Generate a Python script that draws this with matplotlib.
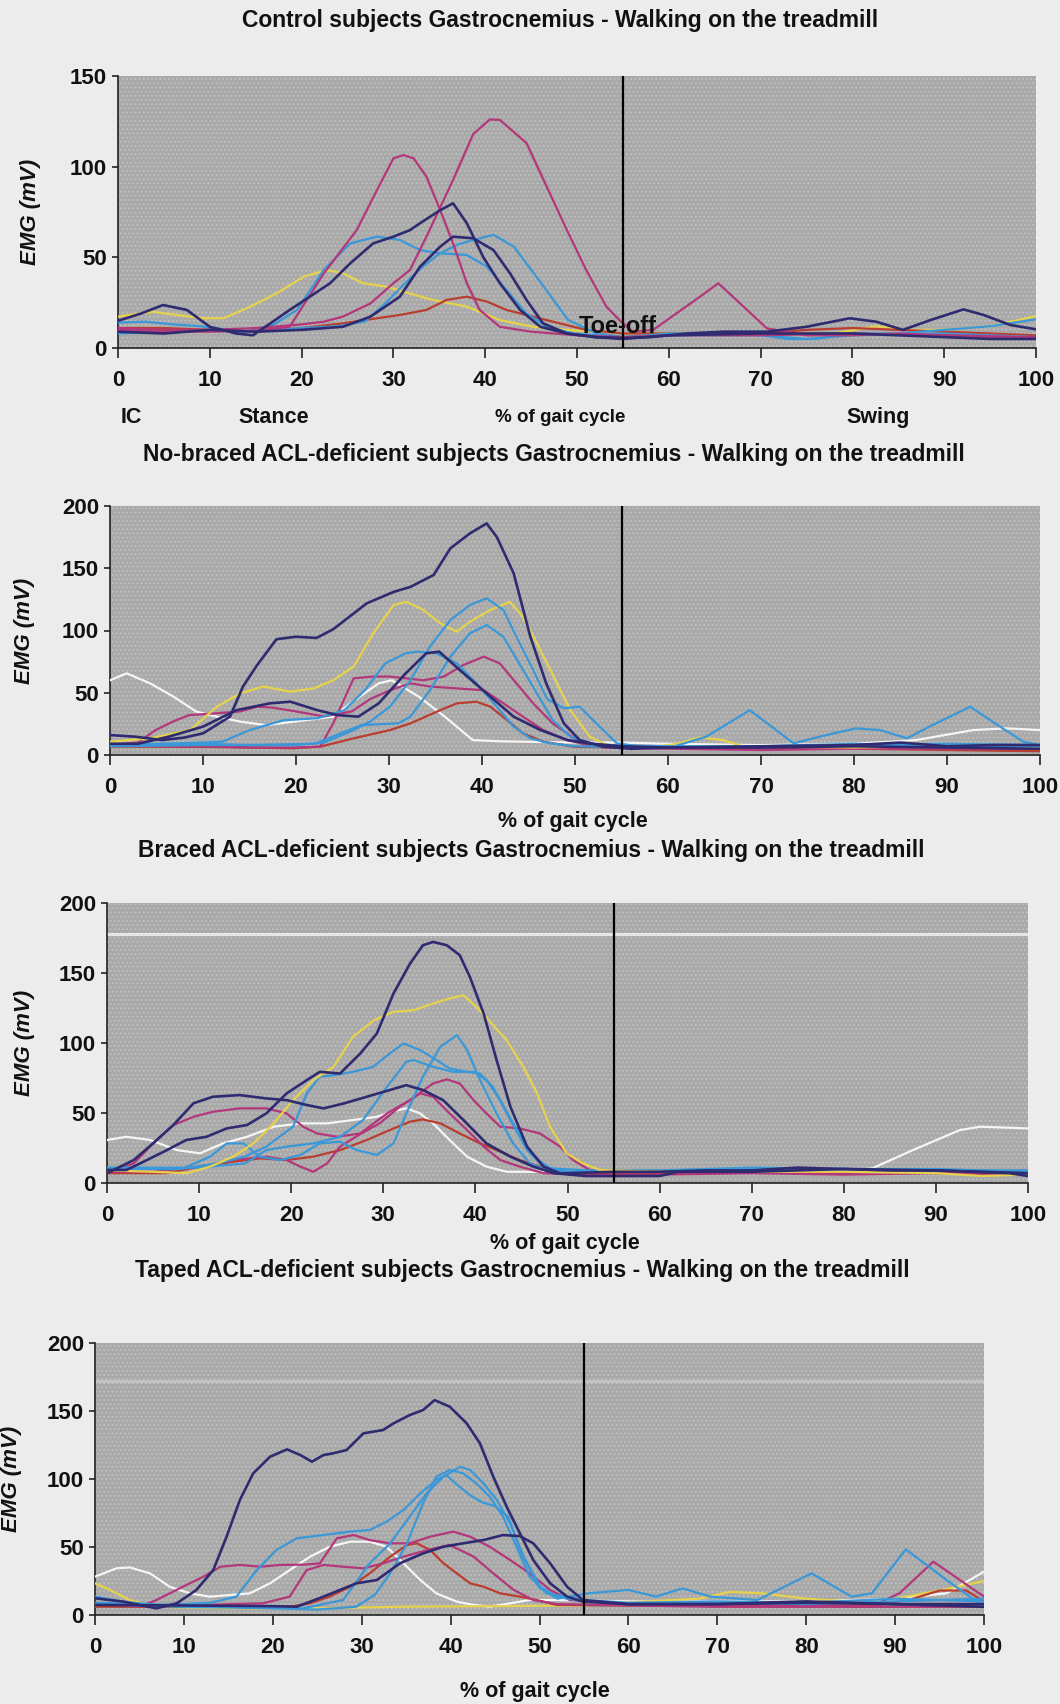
import matplotlib
matplotlib.use("Agg")
import matplotlib.pyplot as plt
from matplotlib.patches import Rectangle

# ---------------- data ----------------
x_ticks = [0, 10, 20, 30, 40, 50, 60, 70, 80, 90, 100]
toe_off = 55

titles = ["Control subjects Gastrocnemius - Walking on the treadmill",
          "No-braced ACL-deficient subjects Gastrocnemius - Walking on the treadmill",
          "Braced ACL-deficient subjects Gastrocnemius - Walking on the treadmill",
          "Taped ACL-deficient subjects Gastrocnemius - Walking on the treadmill"]
y_maxes = [150, 200, 200, 200]
phase_labels = ["IC", "Stance", "Swing"]
phase_pos = [0.3, 17, 82.8]
# light horizontal streaks visible across the scanned plot areas (panel index, level, alpha)
scan_streak_panel = [2, 3]
scan_streak_level = [178, 172]
scan_streak_alpha = [0.85, 0.35]

# ---- Control ----
ctrl_navy_a_x = [0, 2.5, 4.9, 7.5, 10, 12.9, 14.7, 16.6, 18.7, 20.9, 23.1, 25.3, 27.8, 30, 31.8, 32.9, 35.1, 36.5, 38, 39.8, 41.6, 43.8, 46, 48.9, 52, 55, 58, 62, 66, 70.7, 75, 79.7, 82.6, 85.5, 88.5, 92.1, 94.3, 97.2, 100]
ctrl_navy_a_y = [15, 19, 23.7, 21, 11.7, 8, 7, 13.6, 21, 28.3, 35.7, 46.7, 57.7, 61.4, 65, 68.8, 76, 79.8, 68.8, 50, 35.7, 21, 11.7, 8, 6, 5.5, 6, 8, 9, 9, 11.7, 16.4, 14.5, 10, 15.4, 21.3, 18.2, 12.7, 10.3]
ctrl_navy_b_x = [0, 5, 10, 15, 20, 24.5, 27.5, 30.7, 32.9, 35.1, 36.5, 38.7, 40.9, 42.7, 44.5, 46.3, 48.9, 52, 55, 60, 70, 80, 90, 95, 100]
ctrl_navy_b_y = [9, 8, 10, 9, 10, 11.7, 17.3, 28.3, 44.8, 55.9, 61.4, 60.5, 54, 41.2, 26.5, 13.6, 8, 6, 5, 7, 8, 8, 6, 5, 5]
ctrl_pink_a_x = [0, 5, 10, 15, 18.7, 22.4, 26, 28.2, 30, 31.1, 32.2, 33.6, 35.1, 36.5, 38, 39.4, 41.6, 45, 50, 55, 60, 70, 80, 90, 100]
ctrl_pink_a_y = [10, 9, 9, 9.5, 11.7, 41, 65, 87, 104.6, 106.4, 104.6, 94.5, 76, 57.7, 35.7, 21, 11.7, 9, 7, 6, 7, 7, 8, 7, 6]
ctrl_pink_b_x = [0, 5, 10, 15, 20, 22.4, 24.5, 27.5, 30, 31.8, 33.6, 36.5, 38.7, 40.5, 41.6, 44.5, 46.7, 48.9, 51, 53.2, 54.7, 56.1, 58.3, 63.4, 65.4, 70.7, 75, 80, 85, 90, 95, 100]
ctrl_pink_b_y = [11, 10, 10, 11, 13, 14.5, 17.3, 24.6, 35.7, 43, 61.4, 92.7, 118, 126, 125.8, 113, 89, 65, 43, 22.8, 15, 9, 10, 28.3, 35.7, 10.8, 7, 7, 8, 7, 6, 6]
ctrl_blue_a_x = [0, 3, 6, 9, 12, 14, 17, 19.5, 22.4, 25.3, 28.2, 30.7, 32.9, 35.1, 38, 40.2, 42.3, 44.5, 46.7, 49.6, 55, 60, 65, 70, 73, 76, 80, 85, 90, 95, 100]
ctrl_blue_a_y = [14, 14.5, 13, 12, 10, 9, 13, 21, 43, 57.7, 61.4, 59.6, 54, 52.2, 51.3, 44.8, 32, 19, 11.7, 8, 6, 8, 8, 7, 5, 5, 8, 8, 10, 12, 15.8]
ctrl_blue_b_x = [0, 5, 10, 15, 20, 24, 26.9, 29, 31.3, 33, 35, 37, 38.7, 40.9, 43.1, 46.1, 49, 52, 55, 60, 70, 75, 80, 90, 100]
ctrl_blue_b_y = [8, 9, 10, 9, 11, 12, 14.7, 24, 35.8, 44, 52, 57, 59.6, 62.4, 56, 35.8, 15.6, 8.3, 6, 7, 7, 5, 7, 8, 6]
ctrl_yellow_x = [0, 3.8, 6.4, 9.3, 11.5, 14.4, 17.3, 20.2, 22.7, 24.5, 26.7, 29.3, 31.1, 34.3, 38, 41.6, 45.2, 48.9, 55, 60, 70, 78, 82.6, 86, 90, 95, 100]
ctrl_yellow_y = [17.3, 20, 18.2, 16.4, 16.4, 22.8, 30.2, 39.3, 43, 41.2, 35.7, 33.8, 31, 26.5, 22.8, 15.4, 11.7, 10, 8, 8, 8, 8, 12, 10, 10, 12, 17.6]
ctrl_red_x = [0, 5, 10, 15, 20, 24.5, 28.2, 30.7, 33.6, 35.8, 38, 40.2, 42.3, 45.2, 48.1, 51, 55, 60, 70, 75, 80, 90, 100]
ctrl_red_y = [11, 11, 10, 9, 11, 13.6, 16.4, 18.2, 21, 26.5, 28.3, 25.6, 21, 17.3, 13.6, 10, 8, 8, 8, 10, 11, 9, 7]

# ---- No-braced ----
nb_navy_a_x = [0, 2.7, 5.6, 8, 10, 12.9, 14.3, 15.8, 17.9, 20, 22.2, 24, 27.6, 30.5, 32.3, 34.8, 36.6, 38.7, 40.5, 41.6, 43.4, 45.2, 46.9, 48.8, 50.5, 53, 56, 60, 70, 80, 90, 100]
nb_navy_a_y = [16, 14.7, 12, 14, 17.4, 30.8, 55, 72, 93, 95, 94, 101, 121.8, 131, 135, 144.6, 166, 178, 186, 175, 146, 95, 57.6, 25.4, 12, 6.7, 5, 6, 6, 7, 6, 5]
nb_navy_b_x = [0, 3, 6.3, 10, 13.6, 17.2, 19.4, 22.3, 24.5, 26.7, 28.9, 31.8, 34, 35.4, 37.6, 40.5, 43.4, 46.3, 49.2, 51.4, 55, 60, 70, 80, 85, 90, 95, 100]
nb_navy_b_y = [9, 9, 14.7, 22.8, 36, 41.5, 42.8, 36, 32, 30.8, 41.5, 65.6, 81.7, 83, 68.3, 49.5, 30.8, 20, 12, 9.4, 7, 6, 7, 8, 10, 7, 8, 8]
nb_yellow_x = [0, 4.3, 8.6, 11.5, 14, 16.5, 19.4, 21.9, 24, 26.2, 28.3, 30.5, 31.9, 33.7, 35.5, 37.3, 38.7, 40.9, 43, 44.4, 45.9, 47.7, 49.5, 51.6, 53.4, 58, 61, 63.4, 65.9, 68, 80, 88, 92, 100]
nb_yellow_y = [10.7, 13.4, 20, 38.8, 49.5, 55, 50.9, 53.5, 60, 71, 97.7, 120.5, 123, 116.5, 105.8, 99, 107, 116.5, 123, 111, 89.7, 63, 36, 14.7, 8, 6, 9, 14, 12, 7, 6, 7, 8, 6]
nb_white_x = [0, 1.8, 4.3, 6.8, 9.3, 11.5, 14, 16.8, 21.1, 24, 26.5, 28.9, 30.3, 33.2, 36, 39, 42, 50, 55, 60, 70, 80, 86.7, 92.8, 96.4, 100]
nb_white_y = [60, 65.6, 57.6, 47, 34.8, 30.8, 26.8, 24, 28, 30.8, 45, 57.6, 60, 46.9, 30.8, 12, 11, 10, 10, 9, 8, 9, 12, 20, 21.4, 20]
nb_mag_a_x = [0, 5, 10, 15, 20, 22.6, 24, 26.2, 28.3, 30.1, 33.7, 35.9, 38, 40.2, 41.9, 43.7, 45.5, 47.6, 50.2, 53, 60, 70, 80, 90, 100]
nb_mag_a_y = [8, 7, 7, 6, 6, 6.7, 25.4, 61.6, 63, 63, 60, 63, 72.3, 79, 73.6, 57.6, 41.5, 25.4, 12, 6, 5, 4, 5, 5, 5]
nb_mag_b_x = [0, 3, 4.9, 6.8, 8.5, 11.4, 14, 15.8, 17.5, 20, 23, 26, 28, 30.1, 32.3, 34.4, 37.3, 40.2, 42.3, 44.4, 46.6, 49.1, 52, 60, 70, 80, 90, 100]
nb_mag_b_y = [8, 10, 20, 27, 32, 33.5, 35, 38.8, 38, 35, 31, 35, 45, 52, 57.6, 55, 53.5, 52, 41.5, 30.8, 20, 12, 7, 6, 6, 8, 6, 5]
nb_blue_a_x = [0, 5, 10, 15, 20, 23, 26.2, 28, 30.1, 32.3, 34.4, 36.6, 38.7, 40.5, 42.3, 43.7, 45.5, 47, 48.8, 50.5, 52.3, 54.5, 57, 60.6, 64.1, 68.8, 73.5, 77, 80.2, 82.8, 85.7, 88.1, 92.5, 95.7, 98.2, 100]
nb_blue_a_y = [8, 8, 9, 8, 8, 10, 20, 27, 38.8, 60, 87, 108.4, 120.5, 125.8, 116.5, 95, 68.3, 45, 37.5, 38.8, 25.4, 9.4, 6.7, 6.7, 14.7, 36, 9.4, 16, 21.4, 20, 13.4, 22.8, 38.8, 22.8, 10.7, 8]
nb_blue_b_x = [0, 10, 15, 22, 25, 27, 31, 32.3, 34.4, 36.6, 38.7, 40.5, 42.3, 44, 45.9, 47.6, 49.5, 52, 60, 70, 80, 90, 100]
nb_blue_b_y = [7, 8, 8, 9, 18, 24, 25.4, 30.8, 52, 79, 97.7, 104.4, 95, 73.6, 49.5, 28, 14.7, 8, 7, 7, 9, 7, 7]
nb_blue_c_x = [0, 5, 10, 12.1, 15, 18.7, 22.3, 25.2, 27.4, 29.6, 31.8, 33, 35.1, 37.3, 39.4, 41.6, 43.4, 45.2, 47.3, 50, 60, 70, 80, 90, 100]
nb_blue_c_y = [8, 9, 10, 10.7, 20, 28, 29.5, 36, 52, 73.6, 81.7, 83, 81.7, 73.6, 57.6, 38.8, 22.8, 13.4, 9.4, 7, 6, 7, 8, 9, 8]
nb_red_x = [0, 5, 10, 15, 19.7, 22.6, 26.2, 30.1, 32.3, 35.5, 37.3, 39.4, 40.9, 42.7, 44.4, 46.6, 50, 60, 70, 80, 90, 100]
nb_red_y = [6.7, 6.7, 6.5, 6, 5.4, 6.7, 13.4, 20, 25.4, 36, 41.5, 42.8, 38.8, 28, 17.4, 10.7, 6.5, 6, 6, 5, 4, 3]

# ---- Braced ----
br_navy_a_x = [0, 2.1, 3.6, 6.5, 8.6, 10.8, 13, 15.2, 17.3, 19.5, 21.7, 23.1, 25.3, 27.5, 29.3, 31.1, 32.9, 34.3, 35.4, 36.9, 38.3, 39.4, 40.9, 42.3, 43.8, 45.6, 47.4, 49.2, 55, 60, 65, 70, 75, 80, 85, 90, 95, 100]
br_navy_a_y = [9.3, 9.3, 14, 23.5, 30.7, 33, 39, 41.4, 49.7, 64, 73.5, 79.4, 78.2, 92.5, 106.8, 135.3, 156.7, 169.8, 172.2, 169.8, 162.7, 147.2, 121, 87.8, 54.5, 26, 11.7, 6.9, 8, 8, 9, 9, 11, 10, 9, 9, 8, 7]
br_navy_b_x = [0, 2.9, 5, 7.2, 9.4, 11.5, 14.4, 17.3, 19.5, 21.7, 23.5, 25.7, 28.2, 30.7, 32.5, 34.3, 36.5, 38.7, 41.2, 43.8, 46.3, 48.5, 52, 60, 62, 70, 80, 90, 98, 100]
br_navy_b_y = [7, 16.4, 28.3, 41.4, 57, 61.6, 62.8, 60.4, 59.2, 55.7, 53.3, 56.8, 61.6, 66.4, 69.9, 66.4, 59.2, 45, 28.3, 18.8, 11.7, 7, 5, 5, 8, 8, 10, 9, 7, 5]
br_yellow_x = [0, 5, 8.7, 11.2, 13.7, 15.9, 18.1, 20.2, 22.4, 24.6, 26.7, 29, 31.1, 33.3, 35.4, 37.2, 38.7, 40.1, 41.6, 43.4, 45.2, 46.7, 48.1, 49.9, 51.7, 53.5, 60, 70, 80, 90, 95, 100]
br_yellow_y = [9, 8, 7, 11.7, 18.8, 28.3, 42.6, 59.2, 73.5, 83, 104.4, 116.3, 122.3, 123.4, 128.2, 131.8, 134.1, 125.8, 115.1, 102, 83, 64, 40.2, 21.2, 14, 9.3, 8, 8, 8, 7, 5, 6]
br_blue_a_x = [0, 8, 12, 15, 17.3, 20.2, 21.7, 23.1, 24.6, 26.7, 28.9, 30.7, 32.2, 34, 35.8, 37.2, 39.1, 40.5, 41.9, 43.8, 45.6, 47.4, 50, 60, 70, 80, 90, 100]
br_blue_a_y = [10, 10, 14, 19, 26, 40.2, 64, 75.9, 77, 79.4, 83, 92.5, 99.7, 94.9, 87.8, 81.8, 79.4, 78.2, 68.7, 45, 23.5, 11.7, 8, 8, 9, 10, 9, 8]
br_blue_b_x = [0, 8.3, 11.2, 13, 14.8, 16.6, 18.8, 21, 23.1, 25.3, 27.1, 29.3, 31.1, 32.5, 34.3, 36.2, 38, 39.1, 40.5, 42.3, 44.1, 45.9, 47.7, 50, 60, 70, 80, 90, 100]
br_blue_b_y = [10.5, 10.5, 18.8, 28.3, 28.3, 18.8, 16.4, 20, 28.3, 29.5, 23.5, 20, 28.3, 49.7, 75.9, 97.3, 105.6, 94.9, 73.5, 49.7, 28.3, 14, 9.3, 8, 8, 10, 10, 10, 8]
br_blue_c_x = [0, 10, 15, 17.3, 19.5, 22.4, 25.3, 27.8, 30.4, 32.5, 33.3, 35.4, 37.6, 39.8, 41.2, 42.7, 44.5, 46.3, 48.1, 52, 60, 70, 80, 90, 100]
br_blue_c_y = [11, 11, 14, 23.5, 26, 28.3, 33, 45, 68.7, 86.6, 87.8, 83, 79.4, 79.4, 73.5, 59.2, 37.8, 18.8, 10.5, 9, 9, 11, 10, 9, 9]
br_mag_a_x = [0, 2.9, 5, 7.2, 9.4, 11.5, 14.4, 17.3, 19.5, 21.3, 22.8, 25, 27.5, 30.4, 32.9, 35.4, 36.9, 38.3, 39.8, 41.2, 42.7, 44.8, 47, 49.2, 50.6, 52.4, 60, 70, 80, 90, 100]
br_mag_a_y = [7, 14, 28.3, 41.4, 47.3, 50.9, 53.3, 53.3, 49.7, 40.2, 35.4, 33, 35.4, 49.7, 59.2, 71.1, 74, 71.1, 59.2, 49.7, 40.2, 39, 35.4, 26, 16.4, 9.3, 8, 8, 7, 8, 7]
br_mag_b_x = [0, 5, 10.1, 13.7, 17.3, 19.5, 21, 22.4, 23.9, 25.3, 27.5, 29.6, 31.8, 34, 35.4, 37.2, 39.1, 40.9, 42.7, 44.8, 47.4, 52, 60, 70, 80, 90, 100]
br_mag_b_y = [8, 8, 11.7, 16.4, 18.8, 16.4, 11.7, 8, 14, 26, 35, 42.6, 54.5, 64, 61.6, 49.7, 37.8, 26, 16.4, 11.7, 7, 6, 6, 7, 6, 7, 6]
br_red_x = [0, 6.5, 10.1, 13.7, 16.6, 19.5, 22.4, 25.3, 28.2, 30.7, 32.9, 34.3, 36.2, 38.3, 40.5, 42.7, 44.8, 47, 49.2, 55, 60, 70, 80, 90, 100]
br_red_y = [7, 7, 11.7, 15.2, 17.6, 16.4, 18.8, 23.5, 30.7, 37.8, 43.8, 45.4, 42.6, 35.4, 28.3, 22.4, 16.4, 11.7, 7, 7, 7, 8, 7, 8, 7]
br_white_x = [0, 2.1, 4.7, 7.6, 10.1, 12.6, 15.2, 18.1, 21, 23.9, 26.7, 29.3, 31.5, 32.5, 34, 35.4, 37.2, 39.1, 41.2, 43.4, 50, 60, 70, 80, 83.1, 87.5, 92.6, 94.8, 100]
br_white_y = [30.7, 33, 30.7, 23.5, 21.2, 28.3, 33, 40.2, 42.6, 42.6, 45, 47.3, 52, 53.3, 49.7, 42.6, 30.7, 18.8, 11.7, 8, 8, 8, 8, 8, 10.5, 23.5, 37.8, 40.2, 39]

# ---- Taped ----
tp_navy_a_x = [0, 3.2, 6.9, 9.2, 11.4, 13.3, 14.8, 16.3, 17.8, 19.7, 21.6, 23.1, 24.4, 25.7, 26.8, 28.3, 30.2, 32.4, 33.6, 35.4, 36.9, 38.2, 39.9, 41.8, 43.3, 44.8, 46.3, 47.8, 49.3, 51.2, 53.1, 54.9, 60, 70, 80, 90, 100]
tp_navy_a_y = [12.3, 9.8, 4.9, 8.6, 18.4, 33, 57.6, 84.6, 104.2, 116.4, 121.8, 117.6, 112.7, 117.6, 118.9, 121.3, 133.6, 136, 141, 147, 150.7, 158, 153.2, 141, 126.2, 101.7, 79.7, 60, 40.4, 23.3, 13.5, 9.8, 8, 8, 9, 8, 8]
tp_navy_b_x = [0, 10, 20, 22.7, 25.7, 29.4, 31.7, 34.3, 36.9, 39.2, 41.4, 43.7, 45.9, 47.8, 49.3, 51.2, 53.1, 54.9, 60, 70, 80, 90, 100]
tp_navy_b_y = [7.4, 7, 6.5, 6.1, 13.5, 23.3, 25.7, 38, 45.3, 50.2, 52.7, 55.1, 58.8, 58, 52.7, 38, 20.8, 11, 8, 8, 10, 8, 6]
tp_blue_a_x = [0, 3.2, 6.9, 10, 13, 15.9, 18.2, 20.4, 22.7, 25.7, 28.7, 30.9, 32.8, 34.7, 36.6, 38.4, 39.5, 40.7, 42.2, 43.5, 45, 46.5, 48, 50, 52, 55.5, 60, 63.1, 66.1, 69.2, 74.5, 80.6, 85.1, 87.4, 91.2, 95.8, 100]
tp_blue_a_y = [13.5, 9.8, 7.4, 8, 9, 13.5, 33, 47.8, 56.4, 58.8, 61.3, 62.5, 68.6, 77.2, 89.5, 99.3, 103, 96, 88, 83, 80, 72, 45, 20, 12, 16, 18.4, 13.5, 19.6, 13.5, 11, 30.6, 13.5, 16, 48.3, 25.7, 6.1]
tp_blue_b_x = [0, 10, 20, 23.4, 27.9, 30.9, 33.2, 35.4, 37.3, 39.2, 41.1, 42.2, 43.7, 45.2, 46.7, 48.2, 50.1, 51.9, 55, 60, 70, 80, 90, 100]
tp_blue_b_y = [9, 7, 5, 4.9, 11, 38, 52.7, 72.3, 89.5, 101.7, 109, 106.6, 96.8, 84.6, 67.4, 42.9, 20.8, 13.5, 10, 8, 9, 8, 10, 12]
tp_blue_c_x = [0, 10, 20, 25, 29.4, 31.5, 33.2, 35.1, 36.9, 38.4, 39.9, 41.4, 42.9, 44.4, 45.9, 47.4, 48.9, 50.8, 55, 60, 70, 80, 90, 100]
tp_blue_c_y = [8, 6, 5, 4, 6.1, 15, 30.6, 52.7, 82.1, 101.7, 106.6, 104.2, 96.8, 87, 72.3, 50.2, 28.2, 15.9, 11, 9, 10, 9, 12, 10]
tp_mag_a_x = [0, 5.1, 6.9, 9.9, 12.2, 14.1, 16.3, 18.6, 20.8, 23.5, 25.3, 27.2, 29.1, 30.9, 33.2, 35.4, 37.7, 40.3, 42.2, 44.4, 46.7, 48.9, 51.2, 53.4, 60, 70, 80, 87.2, 90.5, 94.3, 97.3, 100]
tp_mag_a_y = [8.6, 6.1, 11, 20.8, 28.2, 35.5, 36.8, 35.5, 36.8, 37, 38, 56.4, 58.8, 55.1, 52.7, 52.7, 57.6, 61.3, 57.6, 50.2, 40.4, 30.6, 18.4, 11, 8, 7, 7, 6, 16, 39.2, 25.7, 13.5]
tp_mag_b_x = [0, 10, 18.9, 21.9, 23.8, 25.7, 27.9, 30.2, 32.4, 34.7, 37.5, 39.9, 42.6, 44.8, 47.1, 49.3, 52, 60, 70, 80, 90, 100]
tp_mag_b_y = [7.4, 7, 8.6, 13.5, 33, 36.8, 35.5, 34.3, 38, 42.9, 48, 51.5, 42.9, 30.6, 18.4, 11, 8, 7, 6, 6, 6, 6]
tp_red_x = [0, 10, 21.9, 24.2, 26.4, 28.7, 30.9, 33.2, 35.1, 36.2, 37.7, 39.2, 40.7, 42.2, 43.7, 45.6, 47.8, 49.7, 51.9, 60, 70, 80, 88, 92, 95, 98, 100]
tp_red_y = [6.1, 6, 6.1, 8.6, 13.5, 20.8, 30.6, 42.9, 51.5, 52.7, 47.8, 38, 30.6, 23.3, 20.8, 15.9, 13.5, 11, 7.4, 7, 7, 7, 7, 12, 18, 18, 10]
tp_yellow_x = [0, 1.7, 3.9, 6.9, 15, 25, 35, 45, 55, 62, 68, 71.4, 75, 80, 85, 90, 95, 100]
tp_yellow_y = [23.3, 18.4, 11, 6.1, 5, 5, 6.1, 6.5, 7, 10, 12, 17, 16, 12, 10, 12, 18, 25]
tp_white_x = [0, 2.4, 3.9, 6.2, 8.4, 10.7, 12.9, 15.2, 17.4, 19.7, 21.9, 24.2, 26.4, 28.7, 30.9, 32.8, 34.7, 36.6, 38.4, 40.7, 42.6, 44.4, 46.7, 48.9, 51.9, 60, 70, 80, 90, 95.8, 100]
tp_white_y = [28.2, 34.3, 35, 30.6, 20.8, 15.9, 13.5, 14.7, 15.9, 23.3, 33, 42.9, 50.2, 53.9, 53.9, 50.2, 38, 25.7, 15.9, 9.8, 7.4, 6.1, 8.6, 11, 11, 10, 10, 10, 12, 16, 31.8]

# ---------------- styling ----------------
NAVY = "#2f2b70"
MAG = "#b3377a"
YEL = "#e6d24c"
BLUE = "#3a98d8"
RED = "#b93e30"
WHITE = "#f5f5f5"

panels = [
    [(ctrl_yellow_x, ctrl_yellow_y, YEL), (ctrl_red_x, ctrl_red_y, RED),
     (ctrl_blue_a_x, ctrl_blue_a_y, BLUE), (ctrl_blue_b_x, ctrl_blue_b_y, BLUE),
     (ctrl_pink_a_x, ctrl_pink_a_y, MAG), (ctrl_pink_b_x, ctrl_pink_b_y, MAG),
     (ctrl_navy_b_x, ctrl_navy_b_y, NAVY), (ctrl_navy_a_x, ctrl_navy_a_y, NAVY)],
    [(nb_white_x, nb_white_y, WHITE), (nb_red_x, nb_red_y, RED),
     (nb_mag_a_x, nb_mag_a_y, MAG), (nb_mag_b_x, nb_mag_b_y, MAG),
     (nb_yellow_x, nb_yellow_y, YEL), (nb_blue_c_x, nb_blue_c_y, BLUE),
     (nb_blue_b_x, nb_blue_b_y, BLUE), (nb_blue_a_x, nb_blue_a_y, BLUE),
     (nb_navy_b_x, nb_navy_b_y, NAVY), (nb_navy_a_x, nb_navy_a_y, NAVY)],
    [(br_white_x, br_white_y, WHITE), (br_red_x, br_red_y, RED),
     (br_mag_b_x, br_mag_b_y, MAG), (br_mag_a_x, br_mag_a_y, MAG),
     (br_blue_c_x, br_blue_c_y, BLUE), (br_blue_b_x, br_blue_b_y, BLUE),
     (br_blue_a_x, br_blue_a_y, BLUE), (br_yellow_x, br_yellow_y, YEL),
     (br_navy_b_x, br_navy_b_y, NAVY), (br_navy_a_x, br_navy_a_y, NAVY)],
    [(tp_white_x, tp_white_y, WHITE), (tp_yellow_x, tp_yellow_y, YEL),
     (tp_red_x, tp_red_y, RED), (tp_mag_b_x, tp_mag_b_y, MAG),
     (tp_mag_a_x, tp_mag_a_y, MAG), (tp_blue_c_x, tp_blue_c_y, BLUE),
     (tp_blue_b_x, tp_blue_b_y, BLUE), (tp_blue_a_x, tp_blue_a_y, BLUE),
     (tp_navy_b_x, tp_navy_b_y, NAVY), (tp_navy_a_x, tp_navy_a_y, NAVY)],
]

W, H = 1060, 1704
plt.rcParams['font.family'] = ['Liberation Sans', 'DejaVu Sans']
plt.rcParams['hatch.linewidth'] = 0.7
plt.rcParams['hatch.color'] = '#c2c2c2'

fig = plt.figure(figsize=(W / 100, H / 100), dpi=100)
fig.patch.set_facecolor('#ececec')

# axes boxes in pixels: left, top, right, bottom
boxes = [(118, 76, 1036, 348), (110, 506, 1040, 755), (107, 903, 1028, 1183), (95, 1343, 984, 1615)]
title_pos = [(560, 20), (554, 455), (531, 851), (522, 1270)]
xlabel_pos = [(560, 418), (573, 822), (565, 1243), (535, 1691)]
xlabel_size = [13.5, 15.5, 15.5, 15.5]
ylabel_x = [-0.084, -0.081, -0.078, -0.082]
TXT = '#111111'

for i, (box, series) in enumerate(zip(boxes, panels)):
    l, t, r, b = box
    ax = fig.add_axes([l / W, 1 - b / H, (r - l) / W, (b - t) / H])
    ax.set_facecolor('#a9a9a9')
    ax.add_patch(Rectangle((0, 0), 1, 1, transform=ax.transAxes, facecolor='#a9a9a9',
                           hatch='....', edgecolor='#c2c2c2', lw=0, zorder=0))
    for pi, lev, al in zip(scan_streak_panel, scan_streak_level, scan_streak_alpha):
        if pi == i:
            ax.axhline(lev, color='#f0f0f0', lw=2.2, alpha=al, zorder=1)
    for xs, ys, c in series:
        lw = 1.9 if c == NAVY else 1.6
        ax.plot(xs, ys, color=c, lw=lw, solid_joinstyle='round', zorder=3)
    ax.axvline(toe_off, color='black', lw=1.6, zorder=4)
    ax.set_xlim(0, 100)
    ax.set_ylim(0, y_maxes[i])
    ax.set_xticks(x_ticks)
    ax.set_yticks(list(range(0, y_maxes[i] + 1, 50)))
    for s in ['top', 'right']:
        ax.spines[s].set_visible(False)
    for s in ['left', 'bottom']:
        ax.spines[s].set_color('#222222')
        ax.spines[s].set_linewidth(1.2)
    ax.tick_params(axis='x', direction='out', length=7, width=1.1, pad=9,
                   labelsize=16, colors=TXT)
    ax.tick_params(axis='y', direction='out', length=4, width=1.1, pad=4,
                   labelsize=16, colors=TXT)
    for lab in ax.get_xticklabels() + ax.get_yticklabels():
        lab.set_fontweight('bold')
    ax.set_ylabel('EMG (mV)', fontsize=16, fontweight='bold', fontstyle='italic', color=TXT)
    ax.yaxis.set_label_coords(ylabel_x[i], 0.5)
    fig.text(title_pos[i][0] / W, 1 - title_pos[i][1] / H, titles[i], ha='center', va='center',
             fontsize=16.5, fontweight='bold', color=TXT)
    fig.text(xlabel_pos[i][0] / W, 1 - xlabel_pos[i][1] / H, '% of gait cycle', ha='center',
             va='center', fontsize=xlabel_size[i], fontweight='bold', color=TXT)
    if i == 0:
        ax.text(54.4, 12, 'Toe-off', ha='center', va='center', fontsize=17,
                fontweight='bold', color=TXT, zorder=5)
        for lbl, px in zip(phase_labels, phase_pos):
            xf = (l + px / 100 * (r - l)) / W
            fig.text(xf, 1 - 418 / H, lbl, ha='left' if lbl == 'IC' else 'center',
                     va='center', fontsize=15.5, fontweight='bold', color=TXT)

fig.savefig('out.png', dpi=100, facecolor=fig.get_facecolor())
